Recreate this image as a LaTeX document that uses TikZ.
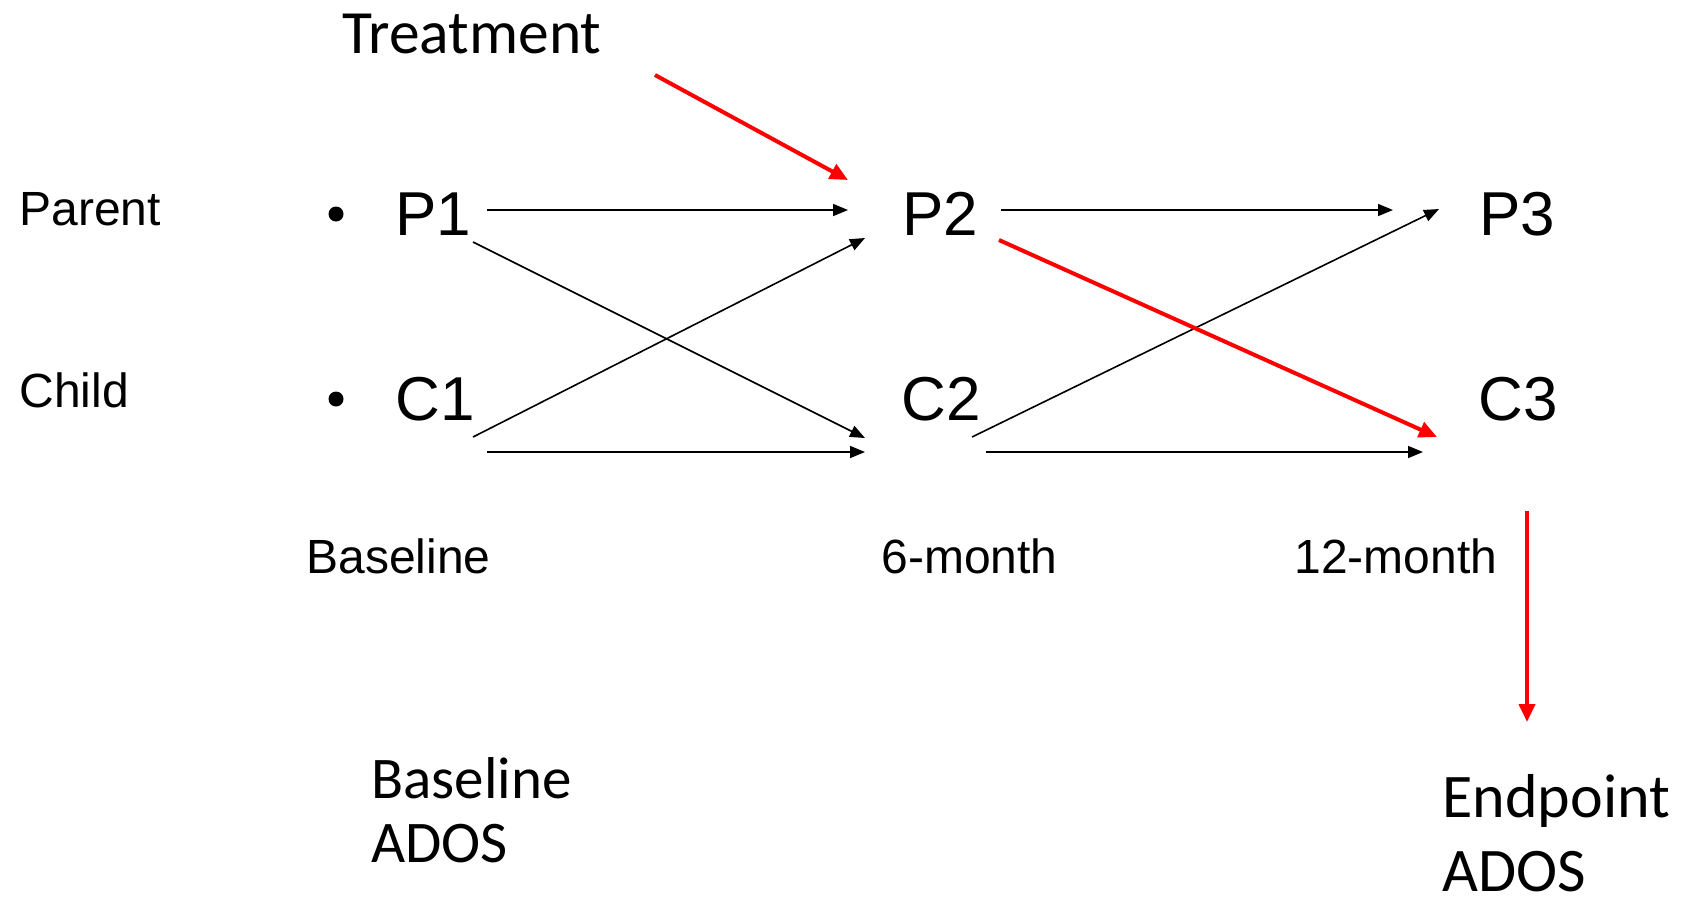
\documentclass[tikz,border=0pt]{standalone}
\usepackage{fontspec}
\setmainfont{Liberation Sans}
\newfontfamily\calibri{Carlito}
\usetikzlibrary{arrows.meta}
\tikzset{
  rowlabel/.style={anchor=west,inner sep=0pt,font=\fontsize{24}{28}\selectfont},
  wave/.style={inner sep=0pt,font=\fontsize{31}{36}\selectfont},
  dot/.style={circle,fill=black,inner sep=0pt,minimum size=7.5pt},
  adoslabel/.style={anchor=north west,inner sep=0pt,align=left,font=\calibri\fontsize{29.5}{32}\selectfont},
  lag/.style={-{Triangle[length=7.5pt,width=6pt]},line width=0.8pt},
  trt/.style={-{Triangle[length=9pt,width=8pt]},red,line width=2pt},
}
\begin{document}
\begin{tikzpicture}[x=0.5pt,y=-0.5pt]
    \useasboundingbox (0,0) rectangle (1684,902);
    %%
    \node (treat) at (342,34) [anchor=west,inner sep=0pt,font=\calibri\fontsize{30.75}{36}\selectfont] {Treatment};
    \node (parent) at (19,209) [rowlabel] {Parent};
    \node (child) at (19,390) [rowlabel] {Child};
    \node (bP) at (336,214) [dot] {};
    \node (bC) at (336,399) [dot] {};
    \node (P1) at (433,214) [wave] {P1};
    \node (C1) at (435,399) [wave] {C1};
    \node (P2) at (940,214) [wave] {P2};
    \node (C2) at (941,399) [wave] {C2};
    \node (P3) at (1517,214) [wave] {P3};
    \node (C3) at (1518,399) [wave] {C3};
    \node (t0) at (306,556) [rowlabel] {Baseline};
    \node (t6) at (881,556) [rowlabel] {6-month};
    \node (t12) at (1294,556) [rowlabel] {12-month};
    \node (baseados) at (371,757) [adoslabel] {Baseline\\ADOS};
    \node (endados) at (1442,774) [adoslabel,font=\calibri\fontsize{31}{37}\selectfont] {Endpoint\\ADOS};
    %
    \draw [lag] ([shift={(54,-4)}]P1.center) -- ([shift={(-92,-4)}]P2.center);
    \draw [lag] ([shift={(40,28)}]P1.center) -- ([shift={(-76,39)}]C2.center);
    \draw [lag] ([shift={(38,38)}]C1.center) -- ([shift={(-75,24)}]P2.center);
    \draw [lag] ([shift={(52,53)}]C1.center) -- ([shift={(-76,53)}]C2.center);
    \draw [lag] ([shift={(61,-4)}]P2.center) -- ([shift={(-124,-4)}]P3.center);
    \draw [lag] ([shift={(31,38)}]C2.center) -- ([shift={(-78,-5)}]P3.center);
    \draw [lag] ([shift={(45,53)}]C2.center) -- ([shift={(-95,53)}]C3.center);
    \draw [trt] ([shift={(313,41)}]treat.west) -- ([shift={(-92,-34)}]P2.center);
    \draw [trt] ([shift={(59,26)}]P2.center) -- ([shift={(-81,38)}]C3.center);
    \draw [trt] ([shift={(9,112)}]C3.center) -- ([shift={(85,-52)}]endados.north west);
    %
\end{tikzpicture}
\end{document}
